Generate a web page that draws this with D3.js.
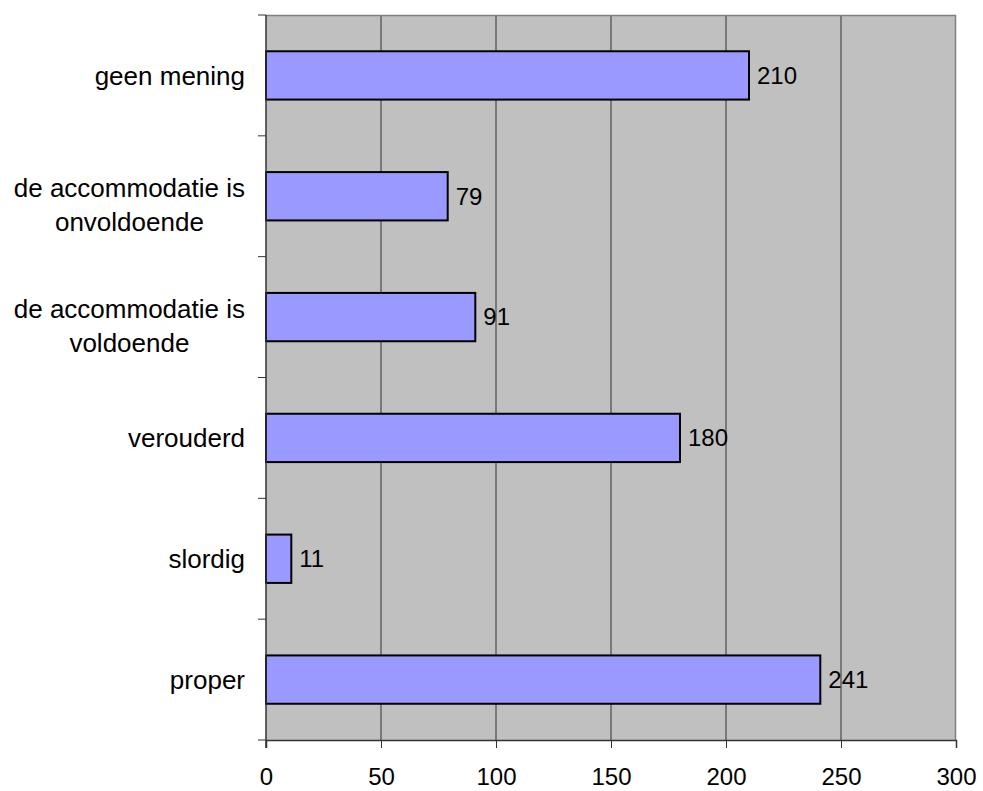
<!DOCTYPE html>
<html>
<head>
<meta charset="utf-8">
<script src="https://cdn.jsdelivr.net/npm/d3@7"></script>
<style>
  body { margin: 0; background: #fff; overflow: hidden; }
  svg { display: block; }
  svg text { font-family: "Liberation Sans", Arial, sans-serif; fill: #000; }
</style>
</head>
<body>
<div id="chart"></div>
<script>
// categories top to bottom, as shown
const categories = ["geen mening", "de accommodatie is\nonvoldoende", "de accommodatie is\nvoldoende", "verouderd", "slordig", "proper"];
const values = [210, 79, 91, 180, 11, 241];
const xTicks = [0, 50, 100, 150, 200, 250, 300];

const width = 983, height = 791;
const margin = { top: 15, right: 27, bottom: 51, left: 266 };
const innerWidth = width - margin.left - margin.right;
const innerHeight = height - margin.top - margin.bottom;

const svg = d3.select("#chart").append("svg")
    .attr("width", width).attr("height", height);
const g = svg.append("g").attr("transform", `translate(${margin.left},${margin.top})`);

const x = d3.scaleLinear().domain([0, 300]).range([0, innerWidth]);
const y = d3.scaleBand().domain(categories).range([0, innerHeight]).paddingInner(0.6).paddingOuter(0.3);

// plot background
g.append("rect").attr("width", innerWidth).attr("height", innerHeight).attr("fill", "#c0c0c0");

// vertical grid lines
g.selectAll(".grid").data(xTicks.slice(1, -1)).enter().append("line")
    .attr("x1", d => x(d)).attr("x2", d => x(d))
    .attr("y1", 0).attr("y2", innerHeight)
    .attr("stroke", "#333").attr("stroke-width", 1);

// top and right border
g.append("path").attr("d", `M0,0.5H${innerWidth - 0.5}V${innerHeight}`)
    .attr("fill", "none").attr("stroke", "#808080").attr("stroke-width", 1.5);

// bars
g.selectAll(".bar").data(categories).enter().append("rect")
    .attr("x", 0)
    .attr("y", d => y(d))
    .attr("width", (d, i) => x(values[i]))
    .attr("height", y.bandwidth())
    .attr("fill", "#9999ff").attr("stroke", "#000").attr("stroke-width", 2);

// value labels
g.selectAll(".val").data(categories).enter().append("text")
    .attr("x", (d, i) => x(values[i]) + 8)
    .attr("y", d => y(d) + y.bandwidth() / 2)
    .attr("dy", "0.35em")
    .style("font-size", "24px")
    .text((d, i) => values[i]);

// x axis
const xAxis = g.append("g").attr("transform", `translate(0,${innerHeight})`)
    .call(d3.axisBottom(x).tickValues(xTicks).tickSize(8).tickPadding(20));
xAxis.select(".domain").attr("stroke", "#333").attr("stroke-width", 1.5);
xAxis.selectAll(".tick line").attr("stroke", "#333");
xAxis.selectAll(".tick text").style("font-size", "24px").attr("fill", "#000");

// y axis: category boundary ticks
const step = innerHeight / categories.length;
g.append("line").attr("x1", 0).attr("x2", 0).attr("y1", 0).attr("y2", innerHeight + 8)
    .attr("stroke", "#333").attr("stroke-width", 1.5);
g.selectAll(".ytick").data(d3.range(categories.length + 1)).enter().append("line")
    .attr("x1", -8).attr("x2", 0)
    .attr("y1", i => i * step).attr("y2", i => i * step)
    .attr("stroke", "#333");

// category labels: right-aligned block, lines centered within it
categories.forEach(cat => {
    const lines = cat.split("\n");
    const cy = y(cat) + y.bandwidth() / 2 + (lines.length > 1 ? 9 : 0);
    const lh = 34;
    const texts = lines.map((ln, j) => g.append("text")
        .style("font-size", "26px")
        .attr("text-anchor", "middle")
        .attr("y", cy + (j - (lines.length - 1) / 2) * lh)
        .attr("dy", "0.35em")
        .text(ln));
    const w = d3.max(texts, t => t.node().getComputedTextLength());
    texts.forEach(t => t.attr("x", -21 - w / 2));
});
</script>
</body>
</html>
